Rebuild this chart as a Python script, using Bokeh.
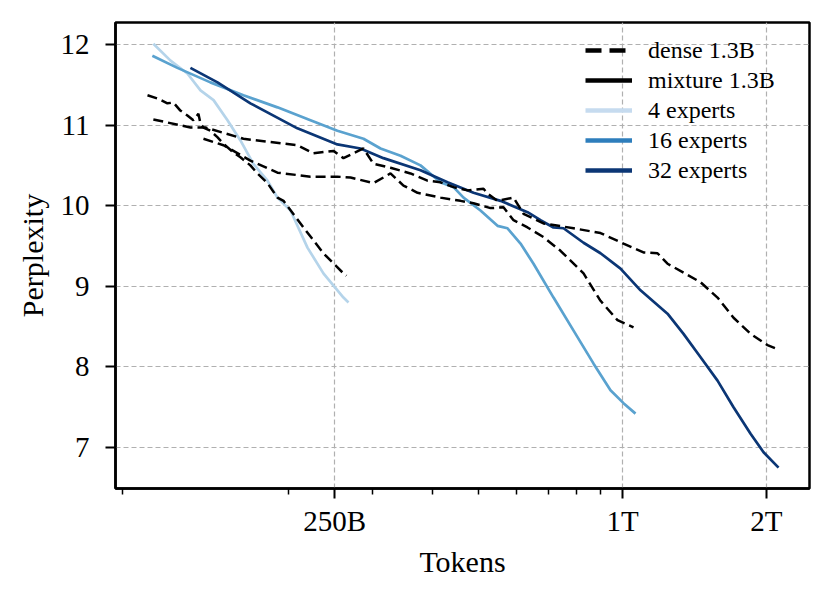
from bokeh.plotting import figure
from bokeh.models import FixedTicker, Legend, LegendItem, ColumnDataSource
from bokeh.embed import file_html
from bokeh.resources import INLINE

# Tokens in billions, perplexity values
dense_a_tokens = [101.5, 106.5, 111.7, 115.0, 118.9, 123.0, 126.6, 129.7, 131.0, 132.9, 137.4, 142.1,
                  146.3, 153.5, 158.8, 166.6, 172.3, 180.9, 189.8, 195.4, 215.1, 236.8, 260.8, 264.6]
dense_a_ppl = [11.37, 11.33, 11.27, 11.28, 11.18, 11.12, 11.06, 11.14, 11.02, 10.97, 10.93, 10.85,
               10.77, 10.66, 10.60, 10.50, 10.40, 10.28, 10.10, 10.06, 9.73, 9.41, 9.16, 9.13]

dense_b_tokens = [104.4, 124.8, 134.2, 161.1, 208.9, 225.7, 248.5, 260.8, 287.2, 301.4, 327.1, 360.2,
                  390.9, 416.2, 443.1, 474.0, 512.0, 522.1, 547.7, 591.6, 620.8, 683.6, 790.0, 899.5,
                  1004.8, 1106.3, 1183.6, 1242.0, 1341.5, 1456.5, 1580.3, 1707.0, 1852.9, 2010.5, 2089.6]
dense_b_ppl = [11.07, 10.97, 10.97, 10.83, 10.75, 10.65, 10.68, 10.59, 10.71, 10.52, 10.47, 10.40,
               10.31, 10.29, 10.23, 10.19, 10.21, 10.15, 10.06, 10.10, 9.90, 9.78, 9.72, 9.66,
               9.53, 9.42, 9.41, 9.28, 9.17, 9.05, 8.86, 8.61, 8.41, 8.27, 8.23]

dense_c_tokens = [132.9, 146.3, 166.6, 189.8, 222.5, 253.3, 269.8, 301.4, 327.1, 348.2, 372.6, 416.2,
                  458.3, 487.9, 529.6, 563.7, 591.6, 632.9, 683.6, 741.9, 828.9, 899.5, 976.1, 1054.4]
dense_c_ppl = [10.83, 10.75, 10.56, 10.41, 10.36, 10.36, 10.35, 10.28, 10.40, 10.25, 10.16, 10.10,
               10.06, 10.03, 9.97, 9.98, 9.82, 9.73, 9.61, 9.44, 9.16, 8.82, 8.58, 8.49]

exp4_tokens = [104.4, 113.4, 123.0, 131.0, 139.5, 149.2, 158.8, 169.0, 180.9, 189.8, 202.1, 219.3,
               236.8, 260.8, 267.2]
exp4_ppl = [12.01, 11.80, 11.64, 11.43, 11.31, 11.06, 10.81, 10.52, 10.31, 10.10, 9.94, 9.48,
            9.16, 8.86, 8.80]

exp16_tokens = [103.9, 117.2, 137.4, 161.1, 189.8, 222.5, 253.3, 287.2, 311.8, 343.3, 378.0, 416.2,
                443.1, 465.0, 504.6, 547.7, 574.7, 611.9, 651.4, 717.3, 790.0, 869.9, 943.8, 1004.8, 1064.6]
exp16_ppl = [11.86, 11.71, 11.53, 11.37, 11.22, 11.06, 10.93, 10.83, 10.71, 10.62, 10.50, 10.29,
             10.23, 10.10, 9.94, 9.75, 9.72, 9.53, 9.28, 8.86, 8.45, 8.04, 7.71, 7.55, 7.42]

exp32_tokens = [124.8, 142.2, 166.6, 208.9, 253.3, 283.1, 316.2, 378.0, 430.5, 487.9, 555.7, 632.9,
                673.8, 717.3, 752.7, 828.9, 899.5, 990.4, 1090.6, 1242.0, 1341.5, 1456.5, 1580.3,
                1707.0, 1852.9, 1972.4, 2120.0]
exp32_ppl = [11.71, 11.53, 11.27, 10.96, 10.76, 10.71, 10.59, 10.44, 10.29, 10.16, 10.06, 9.92,
             9.82, 9.73, 9.72, 9.54, 9.41, 9.22, 8.95, 8.66, 8.41, 8.12, 7.83, 7.50, 7.17, 6.94, 6.75]

x_major_ticks = [250, 1000, 2000]
x_major_labels = ["250B", "1T", "2T"]
x_minor_ticks = [90, 200, 300, 400, 500, 600, 700, 800, 900]
y_ticks = [7, 8, 9, 10, 11, 12]

legend_labels = ["dense 1.3B", "mixture 1.3B", "4 experts", "16 experts", "32 experts"]

FONT = "Liberation Serif"
C4, C16, C32 = "#b5d4ea", "#5aa2cf", "#0b3675"
L4, L16, L32 = "#c6dbef", "#2e7ebc", "#0b3675"

p = figure(width=830, height=590, x_axis_type="log",
           x_range=(87.0, 2461.0), y_range=(6.491, 12.273),
           output_backend="svg", toolbar_location=None,
           min_border_left=115, min_border_right=21, min_border_top=22, min_border_bottom=102)
p.background_fill_color = "white"
p.border_fill_color = "white"
p.outline_line_color = "black"
p.outline_line_width = 2.5
p.outline_line_alpha = 1.0

p.xaxis.ticker = FixedTicker(ticks=x_major_ticks, minor_ticks=x_minor_ticks)
p.xaxis.major_label_overrides = {t: l for t, l in zip(x_major_ticks, x_major_labels)}
p.yaxis.ticker = FixedTicker(ticks=y_ticks, minor_ticks=[])

for ax in (p.xaxis, p.yaxis):
    ax.axis_line_color = "black"
    ax.axis_line_width = 2.5
    ax.major_tick_line_color = "black"
    ax.major_tick_line_width = 2
    ax.major_tick_out = 10
    ax.major_tick_in = 0
    ax.minor_tick_line_color = "black"
    ax.minor_tick_line_width = 1.5
    ax.minor_tick_out = 6
    ax.minor_tick_in = 0
    ax.major_label_text_font = FONT
    ax.major_label_text_font_size = "29px"
    ax.major_label_text_color = "black"
    ax.axis_label_text_font = FONT
    ax.axis_label_text_font_size = "30px"
    ax.axis_label_text_font_style = "normal"
    ax.axis_label_text_color = "black"
p.yaxis.minor_tick_out = 0
p.xaxis.major_label_standoff = 6
p.yaxis.major_label_standoff = 16
p.xaxis.axis_label = "Tokens"
p.yaxis.axis_label = "Perplexity"
p.xaxis.axis_label_standoff = 5
p.yaxis.axis_label_standoff = 9

for g in (p.xgrid, p.ygrid):
    g.grid_line_color = "#b0b0b0"
    g.grid_line_dash = "5 3"
    g.grid_line_width = 1.2

p.line(exp4_tokens, exp4_ppl, line_color=C4, line_width=2.7)
p.line(exp16_tokens, exp16_ppl, line_color=C16, line_width=2.7)
p.line(exp32_tokens, exp32_ppl, line_color=C32, line_width=2.7)
for xs, ys in ((dense_a_tokens, dense_a_ppl), (dense_b_tokens, dense_b_ppl), (dense_c_tokens, dense_c_ppl)):
    p.line(xs, ys, line_color="black", line_width=2.5, line_dash="10 5")

# legend-only renderers (a single missing point, so nothing is drawn in the plot)
def legend_line(**kw):
    src = ColumnDataSource(dict(x=[float("nan")], y=[float("nan")]))
    return p.line("x", "y", source=src, line_width=4.5, **kw)

r_dense = legend_line(line_color="black", line_dash="16 8")
r_mix = legend_line(line_color="black")
r_4 = legend_line(line_color=L4)
r_16 = legend_line(line_color=L16)
r_32 = legend_line(line_color=L32)

items = [LegendItem(label=lab, renderers=[r]) for lab, r in
         zip(legend_labels, [r_dense, r_mix, r_4, r_16, r_32])]
legend = Legend(items=items, location=(470, 303), glyph_width=47, glyph_height=30,
                label_height=30, label_standoff=16, spacing=0, padding=5, margin=0,
                label_text_font=FONT, label_text_font_size="24px", label_text_color="black",
                background_fill_alpha=0, border_line_color=None)
p.add_layout(legend, "center")

open("out.html", "w").write(file_html(p, INLINE))
